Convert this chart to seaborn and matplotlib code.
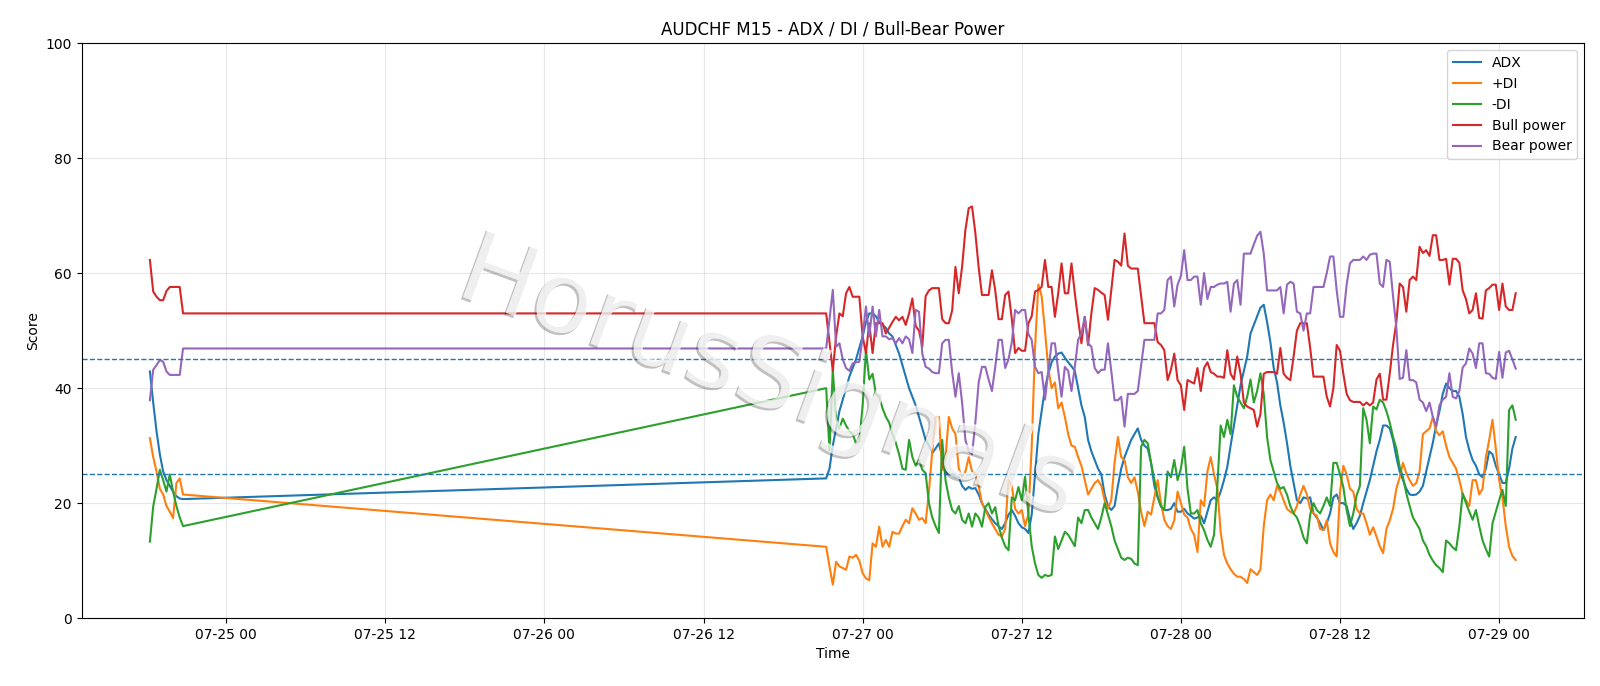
import pandas as pd
import matplotlib
matplotlib.use('Agg')
from matplotlib import pyplot as plt
import matplotlib.dates as mdates
import matplotlib.patheffects as pe
import seaborn as sns

# values (M15 candles), first block before the gap, then the main block
adx_a = [42.9, 37.5, 32.5, 28.5, 25.5, 24, 23, 22, 21.2, 20.8, 20.7]
plus_di_a = [31.3, 28, 25.5, 22.5, 21.5, 19.5, 18.5, 17.4, 23.5, 24.3, 21.5]
minus_di_a = [13.3, 19.4, 22.5, 25.8, 24, 22, 25, 22, 19.5, 17.5, 16]
bull_a = [62.3, 56.8, 55.9, 55.3, 55.3, 56.9, 57.6, 57.6, 57.6, 57.6, 53]
bear_a = [37.9, 43.2, 44, 44.9, 44.6, 42.9, 42.3, 42.3, 42.3, 42.3, 46.9]

adx_b = [24.3, 26, 30, 33, 36, 38, 40, 42, 43.5, 45,
         47, 49, 51.5, 53, 53, 52.5, 51.5, 51, 50.5, 49.5,
         49, 47.5, 46, 44, 42, 40, 38.5, 37, 35, 33,
         31, 30, 28.7, 29.5, 30.4, 28, 25.5, 25, 25, 24.5,
         24.5, 23, 22.3, 22.8, 22.5, 22.6, 21.5, 20, 19, 18,
         17.2, 16.5, 16, 15.5, 16.5, 18, 18.8, 17.8, 16.5, 15.8,
         15.5, 14.8, 18, 25, 32, 36, 40, 42.5, 44.5, 45.5,
         46, 46.2, 45.3, 44.5, 43.8, 43, 40, 37, 35, 31,
         29, 27.5, 26, 25, 21.5, 19.5, 18.8, 19.5, 23, 26,
         28, 29.5, 31, 32, 33, 31, 30, 29.5, 27, 23,
         21, 19.5, 18.8, 18.8, 19, 20, 18.5, 18.5, 19, 18.2,
         17.8, 17.3, 17.5, 17.8, 16.5, 18.5, 20.5, 21, 20.5, 22,
         24, 26.3, 30, 33.5, 37, 40.5, 43, 45.5, 49.5, 51,
         52.5, 54, 54.5, 51.5, 48, 43.5, 41, 37, 34, 30.5,
         26.5, 23.5, 20.5, 20, 21, 20.8, 21, 18.2, 17.5, 16.5,
         15.3, 16.5, 18.2, 21, 21.5, 20, 20, 19.5, 17.2, 15.5,
         16.5, 17.8, 20, 22, 24, 26.5, 29, 31, 33.5, 33.5,
         33, 31, 28, 25.5, 24, 22.5, 21.5, 21.4, 21.5, 22,
         23, 25.5, 28, 30.5, 33.5, 36, 39, 40.8, 40, 39.5,
         39.5, 38.5, 35.5, 31.5, 29.2, 27.5, 26.5, 25, 24.5, 26,
         29, 28.5, 26.5, 25, 23.5, 23.5, 26, 29.5, 31.5]

plus_di_b = [12.4, 9, 5.8, 9.8, 9, 8.7, 8.4, 10.7, 10.5, 11,
             10, 7.8, 6.9, 6.6, 13, 12.4, 15.9, 12.4, 13.6, 12.4,
             15, 14.7, 14.7, 16, 17.1, 16.5, 19.1, 18.2, 17.1, 17.4,
             16.5, 22, 29, 35, 35, 25.8, 28, 35, 33, 32,
             26, 24.6, 25.5, 28, 25.5, 25, 23, 20, 18.8, 17.6,
             16.5, 15.5, 14.5, 14.2, 15.5, 24, 23, 19, 18.2, 18.8,
             16, 18, 29.8, 47, 58, 56, 50, 43.5, 40, 41,
             36.5, 37.5, 35, 32, 30, 29.8, 28, 26.5, 24, 21.5,
             22.5, 23.5, 24, 23, 20.5, 19, 20.5, 27, 31.5, 28,
             27.5, 24.5, 23.5, 24.5, 22, 18.5, 16, 18.5, 18, 21,
             24, 20, 17.1, 16, 15.5, 17, 22, 20, 18, 17.5,
             15.5, 14.5, 11.5, 20.5, 19.5, 25.5, 28, 25, 22.5, 15,
             11, 9.5, 8.5, 7.7, 7.2, 7.2, 6.8, 6.1, 8.5, 8,
             7.5, 8.5, 16, 20.5, 21.5, 20.5, 23, 22, 20.5, 19,
             18.5, 18.2, 19.5, 21.5, 23, 21.5, 19, 18.2, 17.8, 15.5,
             15.3, 17, 13, 11.5, 10.7, 22, 26.5, 25, 22.5, 22,
             19, 18.2, 18.2, 16.5, 14.5, 15.8, 14.2, 12.5, 11.3, 15.5,
             17, 19, 22.5, 24.5, 27, 25.2, 24, 23, 23.5, 25.5,
             32, 32.5, 33, 35, 32.5, 31.8, 32.5, 30, 28, 27,
             26, 24, 21.5, 20.5, 19.5, 24, 24, 21.5, 22.5, 28,
             31, 34.5, 29.5, 24, 21, 16, 12.4, 10.8, 10.1]

minus_di_b = [40, 29.2, 43.2, 34.5, 33, 34.7, 33.5, 32.5, 32, 30.4,
              30.8, 37, 46.6, 41.5, 42.5, 39, 38.5, 36.5, 35, 34,
              32, 30.5, 28.5, 26, 25.8, 31, 28, 26.5, 27.5, 25.8,
              25.2, 20, 17.5, 16, 14.8, 31, 24, 21, 18.8, 18.2,
              19.5, 17.1, 16.5, 18.2, 15.9, 18.2, 17.5, 15.9, 19.3, 20,
              18.2, 19.3, 16, 14, 12.5, 11.8, 21, 20.5, 22.8, 20.5,
              24.6, 18, 12.5, 9.5, 7.5, 7, 7.5, 7.3, 7.5, 14.2,
              12, 13.5, 15, 14.5, 13.5, 12.5, 17.5, 16.5, 18.8, 18.8,
              17.5, 16.5, 15.5, 17.5, 20, 18, 16, 13.5, 12, 10.5,
              10.1, 10.5, 10.3, 9.5, 9.2, 29.8, 31, 30.4, 27, 24,
              21.1, 19.4, 18.8, 25.5, 24.5, 27.5, 24, 26, 29.8, 22.5,
              18.2, 18.2, 18.8, 16.5, 15.3, 13.6, 12.4, 14.5, 23, 33.5,
              31.5, 34.5, 32, 40.5, 38.5, 37.5, 36.5, 38.5, 41.5, 37.5,
              39.5, 42.6, 39, 31.5, 27.5, 25.5, 23.5, 22.5, 22.8, 21.5,
              19.5, 18.2, 17.5, 16, 14, 13, 18, 20, 18.8, 18.2,
              19.5, 21, 19.5, 27, 27, 25, 22.8, 18.8, 16, 18.2,
              21.3, 23, 36.5, 34.5, 30.4, 36.8, 36.3, 38, 37.5, 36,
              34, 31.5, 29.5, 26.3, 24.5, 21.7, 19.5, 17.5, 16.5, 15.5,
              13.5, 12.5, 11, 10, 9.2, 8.7, 8, 13.5, 13, 12.3,
              11.8, 16, 21.7, 20, 18.5, 17.1, 18.8, 16, 13.5, 12,
              10.7, 16.5, 18.5, 20.5, 22.3, 19.5, 36.2, 37, 34.5]

bull_b = [53, 48, 43, 49, 53, 52.5, 56.5, 57.6, 55.9, 55.9,
          55.9, 49, 46.1, 51.3, 46.1, 51.3, 51.3, 51.3, 49.5, 50.5,
          51.5, 52.4, 51.8, 52.4, 51, 53, 55.6, 50.8, 50, 47.2,
          56, 57, 57.4, 57.4, 57.4, 52, 51.3, 51.3, 53.5, 61.1,
          56.5, 61.1, 67.5, 71.3, 71.6, 67, 61, 56.2, 56.2, 56.2,
          60.5, 57, 52, 52, 56.2, 56.8, 52, 46.1, 47, 46.5,
          46.5, 51.3, 52.5, 56.8, 57.1, 57.6, 62.3, 57.6, 57.6, 52.4,
          56.5, 61.7, 56.5, 56.5, 61.7, 56.5, 52, 47.8, 52.4, 47.5,
          53, 57.4, 57.1, 56.6, 56.2, 51.9, 57, 62.3, 62, 61.3,
          66.9, 61.3, 60.8, 60.8, 60.8, 56, 51.3, 51.3, 51.3, 51.3,
          48, 47.5, 46.6, 41.4, 43.2, 46, 41.4, 40.5, 36.2, 41.4,
          41.1, 40.8, 43.5, 39.5, 43.5, 44.5, 42.8, 42.5, 42, 42,
          41.8, 46.6, 42.5, 41.5, 45.5, 42.5, 37.5, 36.8, 36.5, 36.2,
          33.3, 35.5, 42.5, 42.8, 42.8, 42.8, 42.5, 47, 42.5, 41.8,
          41.4, 45.5, 50, 51.3, 51.3, 51.3, 47, 42, 42, 42,
          42, 38.5, 36.8, 40, 47.5, 46.5, 42.5, 39, 37.9, 37.6,
          37.6, 37.6, 37, 37.5, 37, 37.5, 41.5, 42.5, 38, 38,
          42.5, 47.5, 51.5, 58.2, 57.6, 53.3, 58.8, 59.4, 58.8, 64.6,
          63.5, 64, 63, 66.6, 66.6, 62.3, 62.3, 62.5, 58, 62.5,
          62.5, 61.8, 57, 55.5, 53, 53.6, 56.5, 52.2, 52.1, 57,
          57.4, 58, 58, 53.6, 58.2, 54.2, 53.6, 53.6, 56.5]

bear_b = [46.9, 52, 57.1, 47.2, 47.8, 45, 43.5, 43, 44.3, 44.5,
          44.6, 49, 54.2, 49, 54.2, 49, 53.6, 49, 49, 48.5,
          48.7, 47.8, 48.7, 47.8, 49, 48.5, 46.1, 53.6, 53.3, 46,
          43.7, 43.4, 42.8, 42.6, 42.6, 47.8, 48.4, 48.4, 42.8, 38.5,
          42.6, 37.5, 31, 29, 28.5, 34, 41, 43.7, 43.7, 41.5,
          39.5, 43.7, 48.4, 48.4, 43.5, 45, 48, 53.6, 53, 53.6,
          53.6, 49.4, 48.4, 43.7, 42.6, 42.8, 38, 43, 47.8, 47.8,
          43, 38.5, 43.7, 43, 39.5, 43.7, 48.4, 49.5, 52.4, 47.8,
          47.2, 43.5, 42.6, 43.2, 43.2, 47.8, 43, 37.9, 37.9, 38.5,
          33.3, 39, 39, 39, 39.5, 44, 48.4, 48.4, 48.4, 48.4,
          53, 53, 53.6, 58.8, 59.4, 54.2, 58, 59.5, 64, 58.8,
          58.8, 59.4, 59.4, 54.5, 60, 55.5, 57.6, 57.6, 58, 58.2,
          58.2, 58.5, 53.3, 58.2, 58.8, 54.5, 63.4, 63.4, 63.4, 65,
          66.5, 67.2, 63.4, 57, 57, 57, 57, 57.6, 53, 58,
          58.5, 58.2, 53.3, 53, 50, 53, 53, 57.6, 57.6, 57.6,
          57.6, 60, 62.9, 62.9, 57, 52.4, 52.4, 58, 61.7, 62.3,
          62.3, 62.3, 62.9, 62.3, 63.2, 63.4, 63.4, 58.2, 57.6, 62.3,
          62, 56, 50.5, 41.6, 41.8, 46.6, 41.4, 41.4, 41, 38,
          37.5, 36, 37.5, 35, 33.3, 37, 38, 38.5, 42.6, 38.5,
          38.2, 39.5, 43.6, 44.3, 46.9, 46, 43.5, 47.8, 47.8, 42.6,
          42.5, 41.8, 41.6, 46.3, 41.8, 46.2, 46.5, 45, 43.4]

labels = ['ADX', '+DI', '-DI', 'Bull power', 'Bear power']
upper_level = 45
lower_level = 25

times = pd.date_range('2025-07-24 18:15', periods=len(adx_a), freq='15min').append(
    pd.date_range('2025-07-26 21:15', periods=len(adx_b), freq='15min'))
series = [adx_a + adx_b, plus_di_a + plus_di_b, minus_di_a + minus_di_b,
          bull_a + bull_b, bear_a + bear_b]

fig, ax = plt.subplots(figsize=(16, 6.86), dpi=100)
fig.subplots_adjust(left=0.051, right=0.99, top=0.937, bottom=0.099)

for i, (name, vals) in enumerate(zip(labels, series)):
    sns.lineplot(x=times, y=vals, ax=ax, label=name, color=f'C{i}', linewidth=1.5)

ax.axhline(upper_level, linestyle='--', linewidth=1, color='C0')
ax.axhline(lower_level, linestyle='--', linewidth=1, color='C0')

# watermark: white letters with a thin grey drop shadow, drawn over the lines
ax.text(0.458, 0.415, 'HorusSignals', transform=ax.transAxes, fontsize=72,
        color='white', alpha=0.75, rotation=-20, ha='center', va='center', zorder=5,
        path_effects=[pe.withSimplePatchShadow(offset=(-1.5, -1.5), shadow_rgbFace='#303030', alpha=0.3)])

ax.set_ylim(0, 100)
ax.xaxis.set_major_locator(mdates.HourLocator(byhour=[0, 12]))
ax.xaxis.set_major_formatter(mdates.DateFormatter('%m-%d %H'))
ax.grid(True, alpha=0.3)
ax.set_title('AUDCHF M15 - ADX / DI / Bull-Bear Power')
ax.set_xlabel('Time')
ax.set_ylabel('Score')
ax.legend(loc='upper right')

plt.savefig('out.png')
